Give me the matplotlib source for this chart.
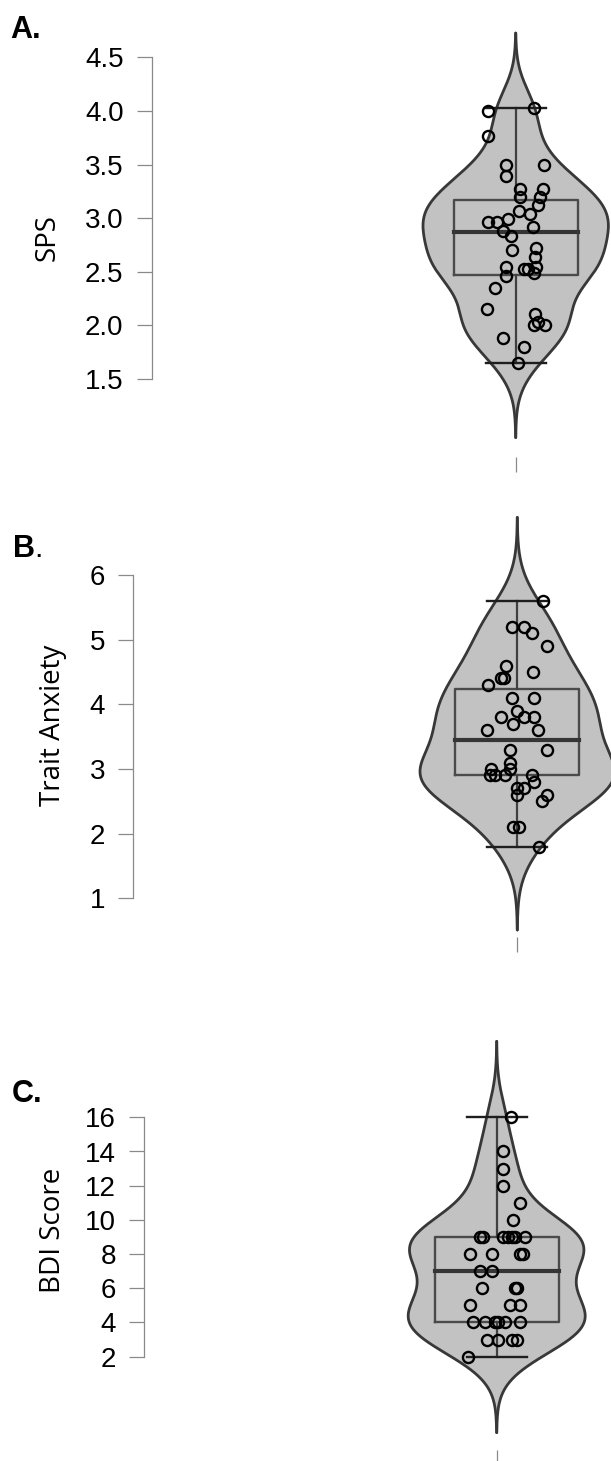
import numpy as np
import matplotlib

matplotlib.use("Agg")
import matplotlib.pyplot as plt

# ---- data ----
sps_values = [4.00, 4.03, 3.77, 3.50, 3.39, 3.50, 3.27, 3.27, 3.20, 3.20,
              3.12, 3.07, 3.04, 2.96, 2.96, 2.99, 2.92, 2.88, 2.83, 2.70,
              2.72, 2.64, 2.54, 2.53, 2.53, 2.54, 2.49, 2.46, 2.35, 2.15,
              2.11, 2.03, 2.00, 2.00, 1.88, 1.80, 1.65]
sps_jitter = [-27.7, 18.0, -27.7, -10.0, -10.0, 28.3, 4.7, 27.3, 4.7, 24.7,
              22.3, 3.3, 14.7, -27.7, -18.3, -7.7, 17.0, -12.7, -5.0, -4.0,
              20.7, 19.0, -9.3, 8.0, 12.3, 20.7, 18.0, -10.0, -21.0, -28.7,
              19.7, 22.3, 29.7, 18.0, -12.7, 8.0, 2.3]

trait_values = [5.6, 5.2, 5.2, 5.1, 4.9, 4.6, 4.5, 4.4, 4.4, 4.3,
                4.1, 4.1, 3.9, 3.8, 3.8, 3.8, 3.7, 3.6, 3.6, 3.3,
                3.3, 3.1, 3.0, 3.0, 2.9, 2.9, 2.9, 2.9, 2.8, 2.7,
                2.7, 2.6, 2.6, 2.5, 2.1, 2.1, 1.8]
trait_jitter = [26.0, -5.0, 7.0, 14.3, 29.3, -11.3, 16.0, -16.7, -13.3, -29.7,
                -5.0, 16.7, 0.0, -16.7, 6.7, 16.7, -4.0, -30.7, 21.0, -7.3,
                29.3, -7.3, -7.3, -26.7, -27.3, -22.3, -12.3, 14.3, 16.7, -0.7,
                6.7, -0.7, 29.3, 24.3, -4.0, 2.0, 22.0]

bdi_values = [16, 14, 13, 12, 11, 10,
              9, 9, 9, 9, 9, 9, 9,
              8, 8, 8, 8,
              7, 7,
              6, 6, 6,
              5, 5, 5,
              4, 4, 4, 4, 4, 4,
              3, 3, 3, 3,
              2]
bdi_jitter = [14.3, 6.7, 6.0, 6.7, 23.3, 16.0,
              -16.7, -13.3, 6.7, 11.7, 15.0, 18.3, 28.3,
              -26.7, -5.0, 23.3, 26.0,
              -16.7, -5.0,
              -14.3, 18.3, 20.0,
              -26.7, 13.3, 23.3,
              -23.3, -11.7, -1.7, 1.7, 8.3, 23.3,
              -10.0, 1.7, 15.0, 20.0,
              -29.0]

# whisker low, Q1, median, Q3, whisker high
sps_box = [1.65, 2.47, 2.87, 3.17, 4.03]
trait_box = [1.8, 2.90, 3.45, 4.24, 5.6]
bdi_box = [2, 4, 7, 9, 16]

sps_ticks = [1.5, 2.0, 2.5, 3.0, 3.5, 4.0, 4.5]
sps_ticklabels = ["1.5", "2.0", "2.5", "3.0", "3.5", "4.0", "4.5"]
trait_ticks = [1, 2, 3, 4, 5, 6]
bdi_ticks = [2, 4, 6, 8, 10, 12, 14, 16]

FIG_W, FIG_H = 611, 1461
FILL = "#c2c2c2"
EDGE = "#383838"
SPINE = "#8a8a8a"


def make_axes(fig, left, top, bottom, center, v1, p1, v2, p2):
    """Axes placed in pixel terms; (v1 at p1) and (v2 at p2) fix the y scale."""
    per_px = (v1 - v2) / (p2 - p1)
    ytop = v1 + (p1 - top) * per_px
    ybot = v2 - (bottom - p2) * per_px
    ax = fig.add_axes([left / FIG_W, 1 - bottom / FIG_H,
                       (FIG_W - left) / FIG_W, (bottom - top) / FIG_H])
    ax.set_ylim(ybot, ytop)
    ax.set_xlim((left - center) / 100, (FIG_W - center) / 100)
    return ax


def draw_panel(ax, values, jitter, box, bw, half_w, ticks, ticklabels):
    vals = np.asarray(values, float)
    grid = np.linspace(vals.min() - 3 * bw, vals.max() + 3 * bw, 400)
    dens = np.exp(-0.5 * ((grid[:, None] - vals[None, :]) / bw) ** 2).sum(axis=1)
    dens = dens / dens.max() * half_w
    ax.fill_betweenx(grid, -dens, dens, facecolor=FILL, edgecolor="none", zorder=1)
    ax.plot(dens, grid, color=EDGE, lw=2.0, zorder=2, solid_capstyle="round")
    ax.plot(-dens, grid, color=EDGE, lw=2.0, zorder=2, solid_capstyle="round")

    lo, q1, med, q3, hi = box
    bw_box = 0.62
    ax.plot([-bw_box, bw_box, bw_box, -bw_box, -bw_box], [q1, q1, q3, q3, q1],
            color="#4a4a4a", lw=1.7, zorder=3)
    ax.plot([-bw_box, bw_box], [med, med], color="#353535", lw=3.0, zorder=3)
    ax.plot([0, 0], [q3, hi], color="#404040", lw=1.6, zorder=3)
    ax.plot([0, 0], [lo, q1], color="#404040", lw=1.6, zorder=3)
    ax.plot([-0.3, 0.3], [hi, hi], color="#1e1e1e", lw=1.7, zorder=3)
    ax.plot([-0.3, 0.3], [lo, lo], color="#1e1e1e", lw=1.7, zorder=3)

    ax.plot(np.asarray(jitter) / 100, vals, "o", ms=8.0, mfc="none",
            mec="black", mew=1.7, zorder=4)

    for s in ["top", "right", "bottom"]:
        ax.spines[s].set_visible(False)
    ax.spines["left"].set_color(SPINE)
    ax.spines["left"].set_linewidth(0.9)
    ax.spines["left"].set_bounds(ticks[0], ticks[-1])
    ax.set_yticks(ticks)
    ax.set_yticklabels(ticklabels, fontsize=20, family="Liberation Sans")
    ax.set_xticks([0])
    ax.set_xticklabels([""])
    ax.tick_params(axis="y", length=10.8, width=0.9, color=SPINE, pad=9.5)
    ax.tick_params(axis="x", length=10.8, width=0.9, color=SPINE)
    ax.patch.set_alpha(0)


fig = plt.figure(figsize=(FIG_W / 100, FIG_H / 100), dpi=100)

ax_a = make_axes(fig, 151.7, 25, 457, 515.7, 4.5, 57.3, 1.5, 379.0)
draw_panel(ax_a, sps_values, sps_jitter, sps_box, 0.232, 0.927,
           sps_ticks, sps_ticklabels)

ax_b = make_axes(fig, 133.3, 505, 937, 517.3, 6, 575.0, 1, 898.3)
draw_panel(ax_b, trait_values, trait_jitter, trait_box, 0.43, 0.973,
           trait_ticks, [str(t) for t in trait_ticks])

ax_c = make_axes(fig, 144.0, 1030, 1450, 496.7, 16, 1117.3, 6, 1288.3)
draw_panel(ax_c, bdi_values, bdi_jitter, bdi_box, 1.48, 0.885,
           bdi_ticks, [str(t) for t in bdi_ticks])

# panel letters and axis titles
for txt, x, y in [("A.", 10, 38), ("C.", 12, 1102)]:
    fig.text(x / FIG_W, 1 - y / FIG_H, txt, fontsize=22, fontweight="bold",
             family="Liberation Sans", va="baseline", ha="left")
fig.text(12.7 / FIG_W, 1 - 556.7 / FIG_H, "B", fontsize=22, fontweight="bold",
         family="Liberation Sans", va="baseline", ha="left")
fig.text(34.5 / FIG_W, 1 - 556.7 / FIG_H, ".", fontsize=22,
         family="Liberation Sans", va="baseline", ha="left")

for txt, x, y in [("SPS", 55, 238), ("Trait Anxiety", 60, 725), ("BDI Score", 60, 1230)]:
    fig.text(x / FIG_W, 1 - y / FIG_H, txt, fontsize=20, family="Open Sans",
             rotation=90, rotation_mode="anchor", ha="center", va="baseline")

fig.savefig("out.png", dpi=100)
